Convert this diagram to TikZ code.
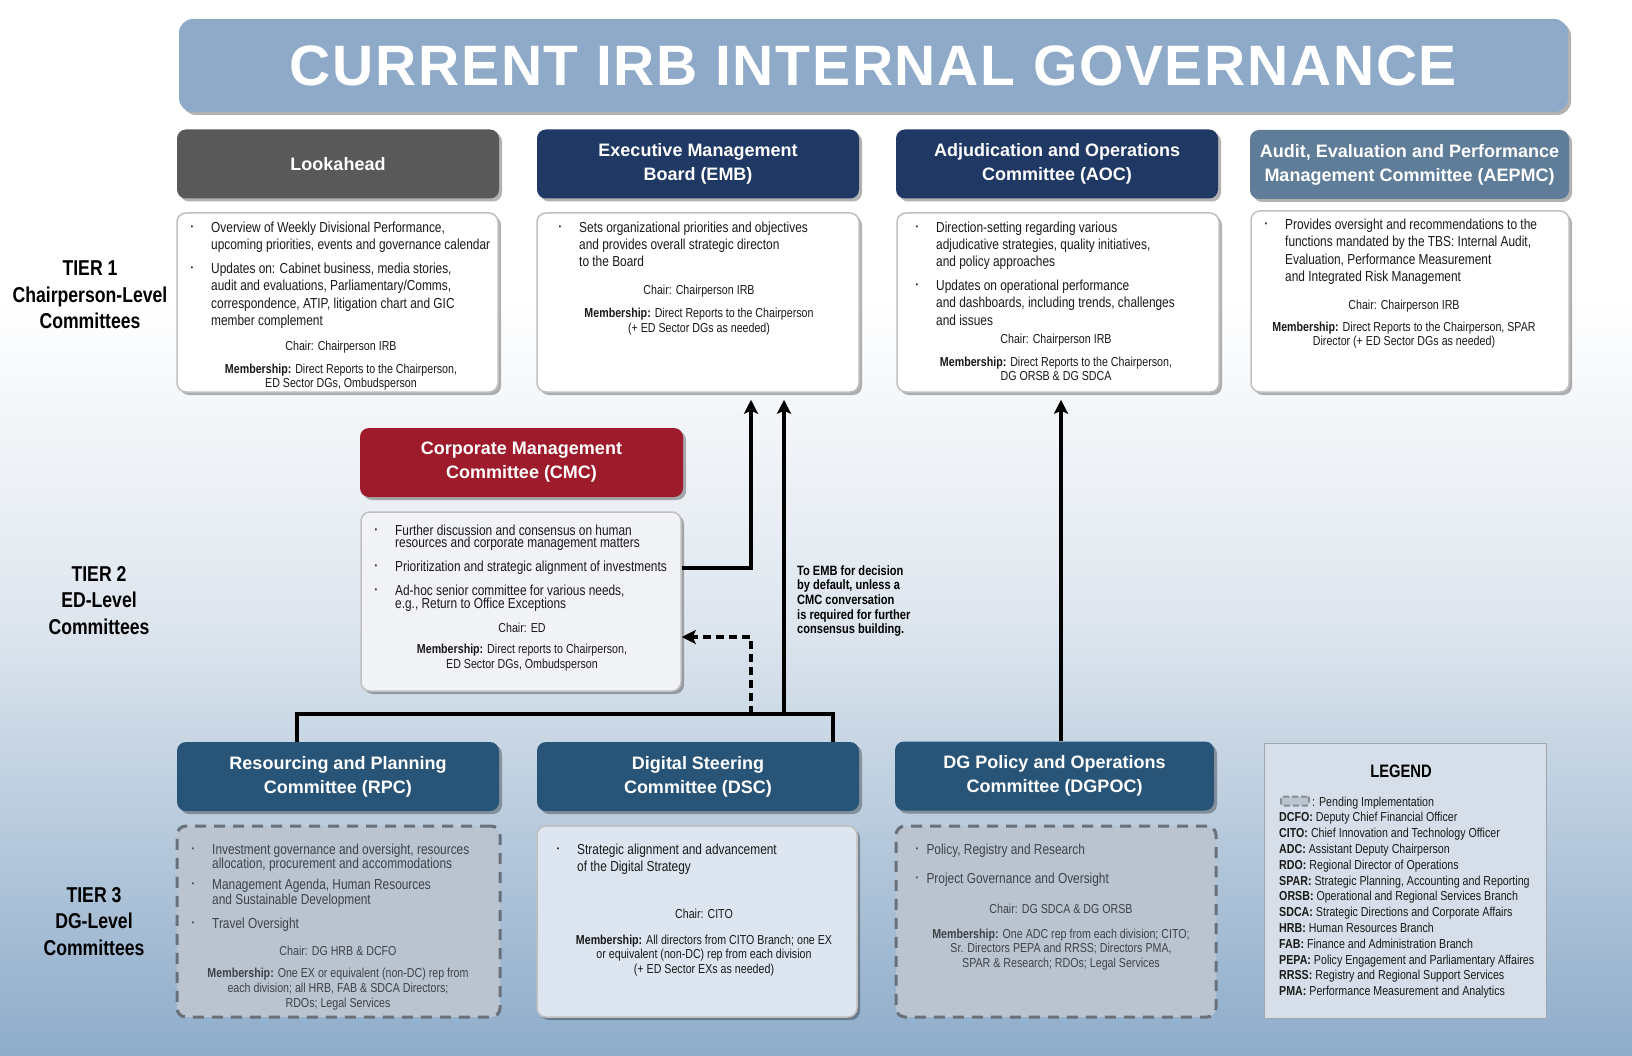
\documentclass[tikz,border=0pt]{standalone}
\usepackage{fontspec}
\setmainfont{Liberation Sans}
\newfontfamily\nar[FakeStretch=0.82]{Liberation Sans}
\usetikzlibrary{arrows.meta,shadows}
\definecolor{titlec}{RGB}{142,170,200}
\definecolor{lookc}{RGB}{89,89,89}
\definecolor{navy}{RGB}{31,56,100}
\definecolor{aepc}{RGB}{95,125,152}
\definecolor{cmcred}{RGB}{157,27,42}
\definecolor{tthree}{RGB}{40,84,119}
\definecolor{boxline}{RGB}{192,192,192}
\definecolor{cmcfill}{RGB}{241,243,246}
\definecolor{pendfill}{RGB}{186,196,208}
\definecolor{penddraw}{RGB}{105,112,122}
\definecolor{dscfill}{RGB}{221,230,240}
\definecolor{legfill}{RGB}{214,223,233}
\definecolor{legdraw}{RGB}{160,166,172}
\definecolor{bgmid}{RGB}{222,230,238}
\definecolor{bgbot}{RGB}{142,172,202}
\definecolor{txt}{RGB}{25,25,25}
\definecolor{ptxt}{RGB}{62,66,72}
\newcommand{\bl}[1][18pt]{\makebox[0pt][r]{\raisebox{2.5pt}{\fontsize{8}{8}\selectfont\textbullet}\hspace{#1}}}
\tikzset{
  shad/.style={drop shadow={shadow xshift=3pt,shadow yshift=-3pt,opacity=0.3,fill=black}},
  hdr/.style={shad,rounded corners=9pt,minimum width=322pt,minimum height=69pt,inner sep=0pt,align=center,text=white,font=\bfseries\fontsize{18}{24}\selectfont},
  bodybox/.style={shad,rounded corners=9pt,draw=boxline,line width=1.5pt,fill=white,inner sep=0pt},
  pendbox/.style={rounded corners=9pt,fill=pendfill,draw=penddraw,line width=3pt,dash pattern=on 11pt off 8pt,inner sep=0pt},
  btxt/.style={anchor=base west,inner sep=0pt,align=left,text=txt,font=\nar\fontsize{14.5}{17.5}\selectfont},
  ctxt/.style={anchor=base,inner sep=0pt,align=center,text=txt,font=\nar\fontsize{13}{14.5}\selectfont},
  tierlab/.style={anchor=base,inner sep=0pt,align=center,text=black,font=\nar\bfseries\fontsize{21.5}{26.5}\selectfont},
  conn/.style={line width=3.5pt,draw=black},
  arr/.style={-{Stealth[length=14pt,width=14pt,inset=3pt]}},
  dashline/.style={dash pattern=on 8pt off 5pt}
}
\begin{document}
% note: a multi-line node's base anchor is the baseline of its LAST line
\begin{tikzpicture}[x=1pt,y=-1pt]
\useasboundingbox (0,0) rectangle (1632,1056);
% background
\fill[white] (0,0) rectangle (1632,300);
\shade[top color=white,bottom color=bgmid] (0,299) rectangle (1632,621);
\shade[top color=bgmid,bottom color=bgbot] (0,620) rectangle (1632,1056);

% title
\node[shad,fill=titlec,rounded corners=14pt,minimum width=1389pt,minimum height=93pt,inner sep=0pt,text=white,font=\bfseries\fontsize{57}{60}\selectfont\addfontfeature{LetterSpace=3}] (title) at (873.5,65.5) {CURRENT IRB INTERNAL GOVERNANCE};

% tier labels
\node[tierlab] (tier1) at (90,329) {TIER 1\\Chairperson-Level\\Committees};
\node[tierlab] (tier2) at (99,634) {TIER 2\\ED-Level\\Committees};
\node[tierlab] (tier3) at (94,955) {TIER 3\\DG-Level\\Committees};

% tier 1 headers
\node[hdr,fill=lookc] (look) at (338,164) {Lookahead};
\node[hdr,fill=navy] (emb) at (698,164) {Executive Management\\Board (EMB)};
\node[hdr,fill=navy] (aoc) at (1057,164) {Adjudication and Operations\\Committee (AOC)};
\node[hdr,fill=aepc,minimum width=319pt] (aep) at (1409.5,164.5) {Audit, Evaluation and Performance\\Management Committee (AEPMC)};

% tier 1 bodies
\node[bodybox,minimum width=321pt,minimum height=179pt] (lookb) at (337.5,302.5) {};
\node[bodybox,minimum width=322pt,minimum height=179pt] (embb) at (698,302.5) {};
\node[bodybox,minimum width=322pt,minimum height=179pt] (aocb) at (1058,302.5) {};
\node[bodybox,minimum width=318pt,minimum height=181pt] (aepb) at (1410,301.5) {};

% Lookahead text
\node[btxt] (lka) at (211,250) {\bl Overview of Weekly Divisional Performance,\\upcoming priorities, events and governance calendar};
\node[btxt] (lkb) at (211,326) {\bl Updates on: Cabinet business, media stories,\\audit and evaluations, Parliamentary/Comms,\\correspondence, ATIP, litigation chart and GIC\\member complement};
\node[ctxt] (lkc) at (341,351) {Chair: Chairperson IRB};
\node[ctxt,font=\nar\fontsize{13}{14}\selectfont] (lkm) at (341,387) {\textbf{Membership:} Direct Reports to the Chairperson,\\ED Sector DGs, Ombudsperson};

% EMB text
\node[btxt,font=\nar\fontsize{14.5}{17}\selectfont] (emba) at (579,266.5) {\bl Sets organizational priorities and objectives\\and provides overall strategic directon\\to the Board};
\node[ctxt] (embc) at (699,295) {Chair: Chairperson IRB};
\node[ctxt,font=\nar\fontsize{13}{15}\selectfont] (embm) at (699,333) {\textbf{Membership:} Direct Reports to the Chairperson\\(+ ED Sector DGs as needed)};

% AOC text
\node[btxt,font=\nar\fontsize{14.5}{17}\selectfont] (aoca) at (936,266.5) {\bl Direction-setting regarding various\\adjudicative strategies, quality initiatives,\\and policy approaches};
\node[btxt,font=\nar\fontsize{14.5}{17.5}\selectfont] (aocb2) at (936,325.5) {\bl Updates on operational performance\\and dashboards, including trends, challenges\\and issues};
\node[ctxt] (aocc) at (1056,343) {Chair: Chairperson IRB};
\node[ctxt,font=\nar\fontsize{13}{14}\selectfont] (aocm) at (1056,380) {\textbf{Membership:} Direct Reports to the Chairperson,\\DG ORSB \& DG SDCA};

% AEPMC text
\node[btxt,font=\nar\fontsize{14.5}{17.3}\selectfont] (aepa) at (1285,281.4) {\bl Provides oversight and recommendations to the\\functions mandated by the TBS: Internal Audit,\\Evaluation, Performance Measurement\\and Integrated Risk Management};
\node[ctxt] (aepc2) at (1404,310) {Chair: Chairperson IRB};
\node[ctxt,font=\nar\fontsize{13}{14}\selectfont] (aepm) at (1404,345) {\textbf{Membership:} Direct Reports to the Chairperson, SPAR\\Director (+ ED Sector DGs as needed)};

% CMC
\node[hdr,fill=cmcred,minimum width=323pt] (cmc) at (521.5,462.5) {Corporate Management\\Committee (CMC)};
\node[bodybox,fill=cmcfill,minimum width=320pt,minimum height=179pt] (cmcb) at (521,601.5) {};
\node[btxt,font=\nar\fontsize{14.5}{12}\selectfont] (cmca) at (395,547) {\bl Further discussion and consensus on human\\resources and corporate management matters};
\node[btxt] (cmcb2) at (395,571) {\bl Prioritization and strategic alignment of investments};
\node[btxt,font=\nar\fontsize{14.5}{13.5}\selectfont] (cmcc) at (395,608.5) {\bl Ad-hoc senior committee for various needs,\\e.g., Return to Office Exceptions};
\node[ctxt] (cmcch) at (522,632) {Chair: ED};
\node[ctxt,font=\nar\fontsize{13}{15}\selectfont] (cmcm) at (522,668) {\textbf{Membership:} Direct reports to Chairperson,\\ED Sector DGs, Ombudsperson};

% annotation
\node[anchor=base west,inner sep=0pt,align=left,text=black,font=\nar\bfseries\fontsize{13.5}{14.7}\selectfont] (note) at (797,633.8) {To EMB for decision\\by default, unless a\\CMC conversation\\is required for further\\consensus building.};

% tier 3 headers
\node[hdr,fill=tthree] (rpc) at (338,776.5) {Resourcing and Planning\\Committee (RPC)};
\node[hdr,fill=tthree] (dsc) at (698,776.5) {Digital Steering\\Committee (DSC)};
\node[hdr,fill=tthree,minimum width=319pt] (dgpoc) at (1054.5,776) {DG Policy and Operations\\Committee (DGPOC)};

% tier 3 bodies
\node[pendbox,minimum width=323pt,minimum height=191pt] (rpcb) at (338.5,921.5) {};
\node[bodybox,fill=dscfill,minimum width=320pt,minimum height=191pt] (dscb) at (697,921.5) {};
\node[pendbox,minimum width=320pt,minimum height=191pt] (dgpocb) at (1056,921.5) {};

% RPC text
\node[btxt,text=ptxt,font=\nar\fontsize{14.5}{14}\selectfont] (rpca) at (212,868) {\bl Investment governance and oversight, resources\\allocation, procurement and accommodations};
\node[btxt,text=ptxt,font=\nar\fontsize{14.5}{13}\selectfont] (rpcb2) at (212,904) {\bl Management Agenda, Human Resources\\and Sustainable Development};
\node[btxt,text=ptxt] (rpcc) at (212,928) {\bl Travel Oversight};
\node[ctxt,text=ptxt] (rpcch) at (338,955) {Chair: DG HRB \& DCFO};
\node[ctxt,text=ptxt,font=\nar\fontsize{13}{15}\selectfont] (rpcm) at (338,1007) {\textbf{Membership:} One EX or equivalent (non-DC) rep from\\each division; all HRB, FAB \& SDCA Directors;\\RDOs; Legal Services};

% DSC text
\node[btxt,font=\nar\fontsize{14.5}{17}\selectfont] (dsca) at (577,871) {\bl Strategic alignment and advancement\\of the Digital Strategy};
\node[ctxt] (dscch) at (704,918) {Chair: CITO};
\node[ctxt,font=\nar\fontsize{13}{14.5}\selectfont] (dscm) at (704,973) {\textbf{Membership:} All directors from CITO Branch; one EX\\or equivalent (non-DC) rep from each division\\(+ ED Sector EXs as needed)};

% DGPOC text
\node[btxt,text=ptxt] (dgpa) at (923,854) {\bl[5pt] Policy, Registry and Research};
\node[btxt,text=ptxt] (dgpb) at (923,883) {\bl[5pt] Project Governance and Oversight};
\node[ctxt,text=ptxt] (dgpch) at (1061,913) {Chair: DG SDCA \& DG ORSB};
\node[ctxt,text=ptxt,font=\nar\fontsize{13}{14.5}\selectfont] (dgpm) at (1061,967) {\textbf{Membership:} One ADC rep from each division; CITO;\\Sr. Directors PEPA and RRSS; Directors PMA,\\SPAR \& Research; RDOs; Legal Services};

% legend
\node[fill=legfill,draw=legdraw,line width=1pt,minimum width=282pt,minimum height=275pt,inner sep=0pt] (legend) at (1405,880.5) {};
\node[anchor=base,inner sep=0pt,font=\nar\bfseries\fontsize{18}{20}\selectfont] (legtitle) at (1401,777) {LEGEND};
\node[fill=pendfill,draw=penddraw!80,line width=2pt,dash pattern=on 6pt off 3pt,rounded corners=2pt,minimum width=28pt,minimum height=9pt,inner sep=0pt] (legicon) at (1295,801) {};
\node[anchor=base west,inner sep=0pt,align=left,text=txt,font=\nar\fontsize{13}{15.8}\selectfont] (legtxt) at (1279,995.6) {\hspace*{33pt}: Pending Implementation\\
\textbf{DCFO:} Deputy Chief Financial Officer\\
\textbf{CITO:} Chief Innovation and Technology Officer\\
\textbf{ADC:} Assistant Deputy Chairperson\\
\textbf{RDO:} Regional Director of Operations\\
\textbf{SPAR:} Strategic Planning, Accounting and Reporting\\
\textbf{ORSB:} Operational and Regional Services Branch\\
\textbf{SDCA:} Strategic Directions and Corporate Affairs\\
\textbf{HRB:} Human Resources Branch\\
\textbf{FAB:} Finance and Administration Branch\\
\textbf{PEPA:} Policy Engagement and Parliamentary Affaires\\
\textbf{RRSS:} Registry and Regional Support Services\\
\textbf{PMA:} Performance Measurement and Analytics};

% connectors
\coordinate (jA) at (751,568);
\coordinate (barL) at (297,714);
\coordinate (barR) at (833,714);
\coordinate (upB) at (784,714);
\coordinate (dA) at (751,714);
\coordinate (dB) at (751,637);
\coordinate (upC) at (1061,742);
\draw[conn,arr,shorten >=7pt] (cmcb.east |- jA) -| (jA |- embb.south);
\draw[conn] (rpc.north -| barL) |- (barR) -- (dsc.north -| barR);
\draw[conn,arr,shorten >=7pt] (upB) -- (upB |- embb.south);
\draw[conn,dashline,arr] (dA) -- (dB) -- (dB -| cmcb.east);
\draw[conn,arr,shorten >=7pt] (dgpoc.north -| upC) -- (upC |- aocb.south);
\end{tikzpicture}
\end{document}
